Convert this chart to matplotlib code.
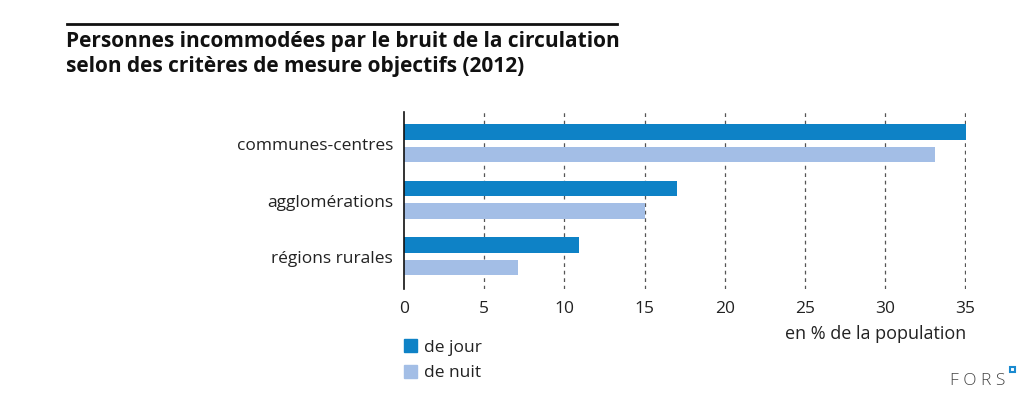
import numpy as np
import matplotlib.pyplot as plt
from matplotlib.patches import Rectangle

# data
categories = ['communes-centres', 'agglomérations', 'régions rurales']
de_jour = [35.1, 17.0, 10.9]
de_nuit = [33.1, 15.0, 7.1]
ticks = [0, 5, 10, 15, 20, 25, 30, 35]

col_jour = '#0e82c6'
col_nuit = '#a3bee6'
font = 'Open Sans'
plt.rcParams['font.family'] = [font, 'DejaVu Sans']

fig = plt.figure(figsize=(10.35, 4.06), dpi=100)
W, H = 1035, 406
ax = fig.add_axes([404 / W, 1 - 290 / H, (966 - 404) / W, (290 - 113) / H])

y = np.arange(len(categories))
h = 0.274
ax.barh(y - 0.198, de_jour, height=h, color=col_jour, zorder=2)
ax.barh(y + 0.2, de_nuit, height=h, color=col_nuit, zorder=2)

ax.set_xlim(0, 35.05)
ax.set_ylim(2.584, -0.549)
ax.set_xticks(ticks)
ax.set_xticklabels([str(t) for t in ticks], fontsize=12.5, color='#222222')
ax.set_yticks(y)
ax.set_yticklabels(categories, fontsize=12.5, color='#222222')
ax.tick_params(axis='both', length=0)
ax.tick_params(axis='x', pad=8)
ax.tick_params(axis='y', pad=8)
for s in ['top', 'right', 'bottom']:
    ax.spines[s].set_visible(False)
ax.spines['left'].set_linewidth(1.2)
ax.spines['left'].set_color('#111111')
for t in ticks[1:]:
    ax.axvline(t, color='#555555', lw=0.9, ls=(0, (3, 3)), zorder=1)

# titles
fig.add_artist(plt.Line2D([67 / W, 617 / W], [1 - 25 / H, 1 - 25 / H], color='#111111', lw=2))
fig.text(66 / W, 1 - 31 / H, 'Personnes incommodées par le bruit de la circulation\nselon des critères de mesure objectifs (2012)',
         fontsize=15, fontweight='bold', va='top', ha='left', color='#111111', linespacing=1.25)

fig.text(966 / W, 1 - 334 / H, 'en % de la population', fontsize=13, ha='right', va='center', color='#222222')

# legend
for i, (lab, c) in enumerate([('de jour', col_jour), ('de nuit', col_nuit)]):
    yc = 346.5 + i * 25.5
    fig.add_artist(Rectangle((404 / W, 1 - (yc + 6.5) / H), 13 / W, 13 / H, color=c, transform=fig.transFigure))
    fig.text(424 / W, 1 - (yc + 1.5) / H, lab, fontsize=12.5, ha='left', va='center', color='#222222')

fig.text(1005 / W, 1 - 381 / H, 'F O R S', fontsize=12.5, fontweight='light', ha='right', va='center', color='#444444')
fig.add_artist(Rectangle((1010 / W, 1 - 373 / H), 5 / W, 5 / H, facecolor='white', edgecolor='#1a8ad0', lw=1.5,
                         transform=fig.transFigure))

fig.savefig('out.png', dpi=100)
